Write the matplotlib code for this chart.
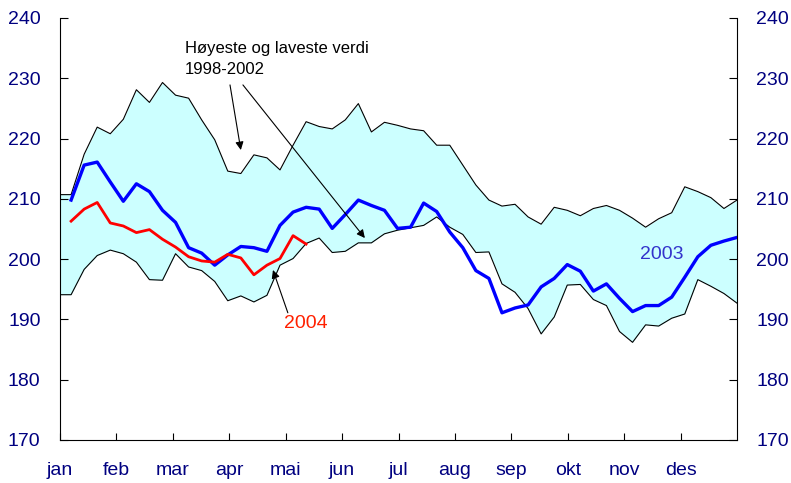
import numpy as np
import matplotlib
matplotlib.use("Agg")
import matplotlib.pyplot as plt

plt.rcParams["font.family"] = ["Liberation Sans", "DejaVu Sans"]

# ── Data (weekly values, week 1..52) ─────────────────────────────────────────
months = ["jan", "feb", "mar", "apr", "mai", "jun",
          "jul", "aug", "sep", "okt", "nov", "des"]

y2003 = [209.8, 215.6, 216.1, 212.8, 209.6, 212.5, 211.2, 208.1, 206.1, 201.9,
         201.0, 199.0, 200.7, 202.1, 201.9, 201.3, 205.6, 207.8, 208.6, 208.3,
         205.1, 207.4, 209.8, 208.9, 208.1, 205.1, 205.3, 209.3, 207.9, 204.5,
         201.9, 198.1, 196.8, 191.1, 191.9, 192.4, 195.4, 196.8, 199.1, 198.0,
         194.7, 195.9, 193.5, 191.3, 192.3, 192.3, 193.7, 197.0, 200.4, 202.3,
         203.0, 203.6]

y2004 = [206.3, 208.3, 209.4, 206.0, 205.5, 204.4, 204.9, 203.3, 202.0, 200.4,
         199.7, 199.5, 200.8, 200.2, 197.4, 199.0, 200.1, 203.9, 202.5]

band_hi = [210.7, 217.4, 221.9, 220.8, 223.2, 228.1, 226.0, 229.3, 227.2, 226.7,
           223.1, 219.8, 214.6, 214.2, 217.3, 216.8, 214.8, 218.9, 222.8, 222.0,
           221.6, 223.1, 225.8, 221.1, 222.7, 222.2, 221.6, 221.3, 218.9, 218.9,
           215.6, 212.3, 209.8, 208.8, 209.1, 207.0, 205.8, 208.6, 208.1, 207.2,
           208.4, 208.9, 208.1, 206.8, 205.3, 206.7, 207.7, 212.0, 211.2, 210.2,
           208.4, 209.8]

band_lo = [194.1, 198.3, 200.6, 201.5, 200.9, 199.5, 196.6, 196.5, 200.9, 198.7,
           198.1, 196.3, 193.1, 193.9, 192.9, 194.0, 199.0, 200.1, 202.6, 203.5,
           201.1, 201.3, 202.7, 202.7, 204.2, 204.8, 205.2, 205.6, 207.0, 205.3,
           204.1, 201.1, 201.2, 195.9, 194.5, 191.8, 187.6, 190.4, 195.7, 195.8,
           193.3, 192.3, 188.0, 186.2, 189.1, 188.9, 190.2, 190.9, 196.6, 195.5,
           194.3, 192.7]

NAVY = "#000080"
X0, X1 = 0.15, 52.0          # axis span in weeks

weeks = np.arange(1, len(y2003) + 1)
wk_band = np.concatenate([[X0], weeks])
hi = np.concatenate([[band_hi[0]], band_hi])
lo = np.concatenate([[band_lo[0]], band_lo])

fig = plt.figure(figsize=(7.91, 4.83), dpi=100)
ax = fig.add_axes([60 / 791, 43 / 483, 677 / 791, 422 / 483])

ax.fill_between(wk_band, lo, hi, color="#CCFFFF", lw=0, zorder=1)
ax.plot(wk_band, hi, color="black", lw=0.8, zorder=2)
ax.plot(wk_band, lo, color="black", lw=0.8, zorder=2)
ax.plot(weeks, y2003, color="#0000FF", lw=2.4, zorder=3)
ax.plot(weeks[:len(y2004)], y2004, color="#FF0000", lw=2.0, zorder=4)

ax.set_xlim(X0, X1)
ax.set_ylim(170, 240)
ax.set_xticks(X0 + np.arange(12) * (X1 - X0) / 12)
ax.set_xticklabels(months)
ax.set_yticks(np.arange(170, 241, 10))
ax.spines["top"].set_visible(False)
ax.tick_params(axis="x", direction="in", length=5, colors="black",
               labelcolor=NAVY, labelsize=14, pad=16)
ax.tick_params(axis="y", direction="in", length=6, colors="black",
               labelcolor=NAVY, labelsize=14, pad=14,
               left=True, right=True, labelleft=True, labelright=True)

# annotations
arrow = dict(arrowstyle="-|>", color="black", lw=0.8,
             mutation_scale=12, shrinkA=0, shrinkB=0)
ax.text(9.72, 233.2, "Høyeste og laveste verdi\n1998-2002", fontsize=12,
        color="black", ha="left", va="center", linespacing=1.45)
ax.annotate("", xy=(14.0, 218.1), xytext=(13.17, 228.9), arrowprops=arrow)
ax.annotate("", xy=(23.5, 203.5), xytext=(14.16, 228.9), arrowprops=arrow)
ax.text(18.99, 189.4, "2004", fontsize=14, color="#FF2000",
        ha="center", va="center")
ax.annotate("", xy=(16.46, 198.2), xytext=(17.6, 191.1), arrowprops=arrow)
ax.text(46.25, 200.7, "2003", fontsize=14, color="#3333CC",
        ha="center", va="center")

fig.savefig("out.png", dpi=100)
